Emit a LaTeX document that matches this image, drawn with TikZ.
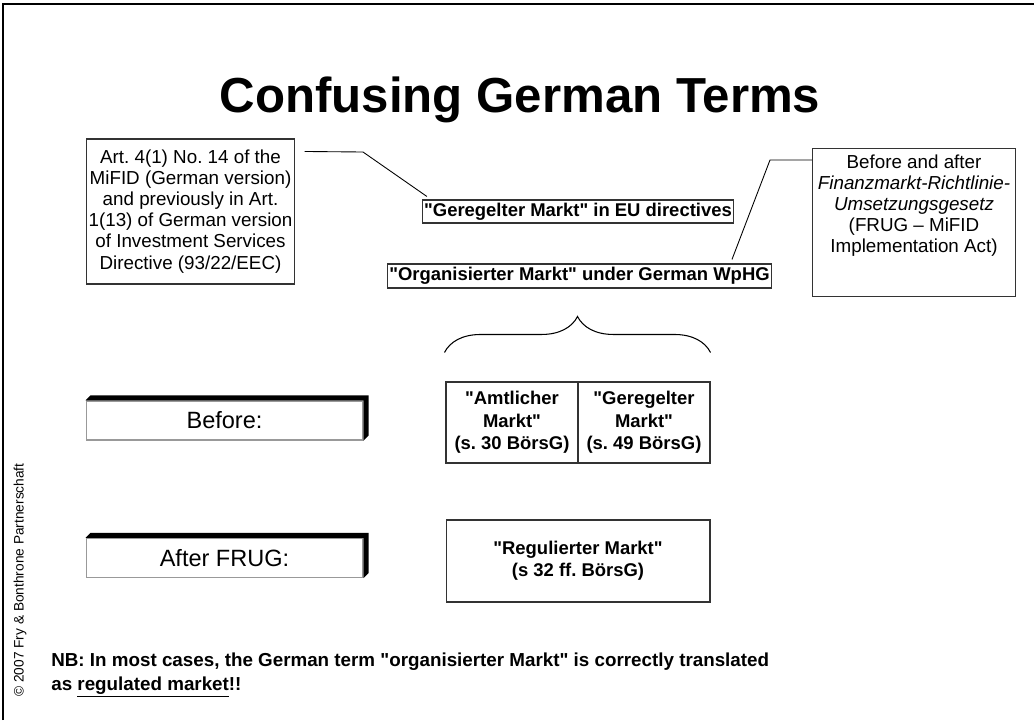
\documentclass[tikz,border=0pt]{standalone}
\usepackage{fontspec}
\setmainfont{Liberation Sans}[Ligatures=TeXOff]
\usepackage{tikz}
\usepackage{tkz-euclide}
\usetikzlibrary{calc,decorations.pathreplacing}
\frenchspacing

\begin{document}
\begin{tikzpicture}[x=0.02cm,y=-0.02cm,
                infobox/.style={draw=black!80,line width=0.6pt,inner sep=1pt,align=center,
                  font=\fontsize{10.7}{12}\selectfont},
                termbox/.style={draw=black!80,line width=0.6pt,inner sep=1pt,align=center,
                  font=\fontsize{10.5}{12.7}\selectfont\bfseries},
                stagebox/.style={draw=black!40,line width=0.6pt,fill=white,inner sep=0pt,
                  minimum width=5.54cm,minimum height=0.78cm,font=\fontsize{13.4}{15}\selectfont},
                link/.style={line width=0.5pt}]
                \useasboundingbox (0,0) rectangle (1034,720);
                \draw[line width=1.2pt] (3,720) -- (3,4) -- (1034,4);
                \node[anchor=base,font=\fontsize{28}{32}\selectfont\bfseries] (title) at (520,112) {Confusing German Terms};
                % the two names
                \node[infobox,minimum width=4.06cm,minimum height=2.9cm] (art) at (190.5,211.5)
                  {Art. 4(1) No. 14 of the\\ MiFID (German version)\\ and previously in Art.\\
                   1(13) of German version\\ of Investment Services\\ Directive (93/22/EEC)};
                \node[termbox,minimum height=0.46cm] (geu) at (578,211.5) {"Geregelter Markt" in EU directives};
                \node[termbox,minimum height=0.48cm] (org) at (579.5,276) {"Organisierter Markt" under German WpHG};
                \node[infobox,anchor=north west,minimum width=4.06cm,minimum height=2.96cm] (frug) at (812,148)
                  {\parbox[c][2.85cm][t]{3.9cm}{\centering\vspace*{2pt}Before and after\\
                   \textit{Finanzmarkt-Richtlinie-}\\ \textit{Umsetzungsgesetz}\\ (FRUG – MiFID\\ Implementation Act)}};
                \tkzDefPoint(363,152){Ea}
                \tkzDefPoint(770,160){Eb}
                \draw[link] ([shift={(10,13)}]art.north east) -- (Ea) -- ([shift={(5,-3)}]geu.north west);
                \draw[link] ([shift={(0,12)}]frug.north west) -- (Eb) -- ([shift={(-40,-4)}]org.north east);
                % before / after
                \node[stagebox] (before) at (224.5,420.5) {Before:};
                \fill (before.north west) -- ++(5,-5) -| ([shift={(5,-5)}]before.south east)
                  -- (before.south east) -- (before.north east) -- cycle;
                \node[stagebox] (after) at (224.5,558) {After FRUG:};
                \fill (after.north west) -- ++(5,-5) -| ([shift={(5,-5)}]after.south east)
                  -- (after.south east) -- (after.north east) -- cycle;
                \node[termbox,minimum width=2.64cm,minimum height=1.62cm] (amt) at (512,422.5)
                  {"Amtlicher\\ Markt"\\ (s. 30 BörsG)};
                \node[termbox,minimum width=2.64cm,minimum height=1.62cm] (ger) at (644,422.5)
                  {"Geregelter\\ Markt"\\ (s. 49 BörsG)};
                \node[termbox,minimum width=5.28cm,minimum height=1.64cm] (reg) at (578,561)
                  {"Regulierter Markt"\\ (s 32 ff. BörsG)};
                \draw[decorate,decoration={brace,amplitude=0.72cm},line width=0.6pt]
                  ([shift={(-1,-29)}]amt.north west) -- ([shift={(0,-29)}]ger.north east);
                %\draw[link] (org.south) -- (amt.north east);
                \node[anchor=north west,inner sep=0pt,align=left,font=\fontsize{10.7}{13.2}\selectfont\bfseries] (nb) at (51,653)
                  {NB: In most cases, the German term "organisierter Markt" is correctly translated\\
                   as \underline{regulated market}!!};
                \node[rotate=90,font=\fontsize{7.8}{9}\selectfont] (copy) at (20,580) {© 2007 Fry \& Bonthrone Partnerschaft};
            \end{tikzpicture}
\end{document}
